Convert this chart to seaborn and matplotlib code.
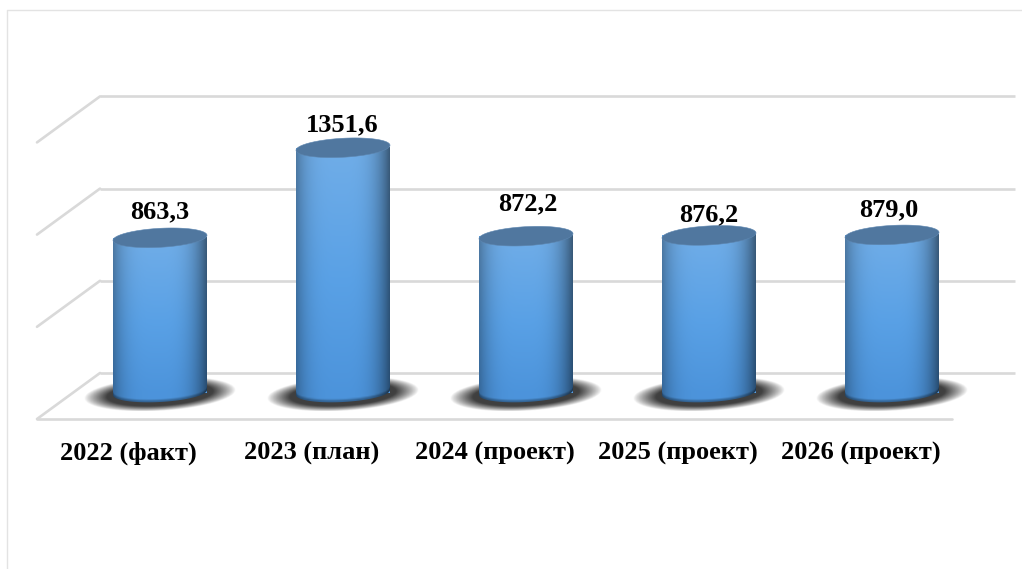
import numpy as np
import pandas as pd
import matplotlib.pyplot as plt
import seaborn as sns
from matplotlib.patches import Polygon
from matplotlib.lines import Line2D

# values
categories = ["2022 (факт)", "2023 (план)", "2024 (проект)", "2025 (проект)", "2026 (проект)"]
values = [863.3, 1351.6, 872.2, 876.2, 879.0]
grid_values = [0, 500, 1000, 1500]

sns.set_theme(style="white")
plt.rcParams["font.family"] = ["Liberation Serif", "DejaVu Serif"]

W, H = 1022, 569
X_SCALE = 183.0    # pixels per category
Y_SCALE = 0.1844   # pixels per value unit
ZERO_X, ZERO_Y = 160.0, 396.0

# helpers to turn pixel sizes into data units
def dx(px):
    return px / X_SCALE

def dy(px):
    return px / Y_SCALE

df = pd.DataFrame({"year": categories, "value": values})

fig = plt.figure(figsize=(W / 100, H / 100), dpi=100, facecolor="white")
ax = fig.add_axes([0, 0, 1, 1])
ax.set_facecolor("white")

bar_width = dx(94)
sns.barplot(data=df, x="year", y="value", width=bar_width, color="#5ba1e5", ax=ax, zorder=3, saturation=1)

xlim = (-ZERO_X / X_SCALE, (W - ZERO_X) / X_SCALE)
ylim = (-(H - ZERO_Y) / Y_SCALE, ZERO_Y / Y_SCALE)

# outer chart frame
fig.add_artist(Line2D([7 / W, 7 / W, 1], [0, 1 - 9.5 / H, 1 - 9.5 / H], color="#e3e3e3", lw=1))

# 3d walls: back line plus the slanted side, floor has a front line too
grid_color = "#d9d9d9"
depth_x, depth_y = dx(31.5), dy(23)
left, right = dx(100 - ZERO_X), dx(1015 - ZERO_X)
for g in grid_values:
    ax.plot([left, right], [g + depth_y, g + depth_y], color=grid_color, lw=1.9, zorder=1, solid_capstyle="butt")
    ax.plot([left - 2 * depth_x, left], [g - depth_y, g + depth_y], color=grid_color, lw=1.9, zorder=1)
ax.plot([left - 2 * depth_x, right - 2 * depth_x], [-depth_y, -depth_y], color=grid_color, lw=1.9, zorder=1)

a_px, b_px, tilt_px = 47.0, 9.5, 2.5
a, b, tilt = dx(a_px), dy(b_px), dy(tilt_px)
base = dy(3.5)
top_drop = dy(1)   # caps sit a touch lower than the value line
theta = np.linspace(0, 2 * np.pi, 120)

# soft floor shadow
def draw_shadow(cx):
    sy = base - dy(2)
    hw, hh = dx(76), dy(17)
    gx, gy = np.meshgrid(np.linspace(-1, 1, 200), np.linspace(-1, 1, 80))
    gy2 = gy - 0.25 * gx
    r = np.sqrt(gx ** 2 + gy2 ** 2)
    alpha = np.clip((1 - r) / 0.3, 0, 1) ** 0.85
    img = np.zeros(gx.shape + (4,))
    img[..., :3] = 0.25
    img[..., 3] = alpha
    ax.imshow(img, extent=(cx - hw, cx + hw, sy - hh, sy + hh), origin="lower", aspect="auto", zorder=2,
              interpolation="bilinear")

# cylinder body with shading, clipped to the bar outline
def draw_cylinder(cx, top):
    rows, cols = 200, 120
    u = np.linspace(-1, 1, cols)
    y = np.linspace(base - b - tilt, top, rows)
    uu, yy = np.meshgrid(u, y)
    frac = ((yy - base) / (top - base)).clip(0, 1)
    c_low = np.array([0.30, 0.58, 0.86])
    c_mid = np.array([0.35, 0.63, 0.90])
    c_top = np.array([0.44, 0.68, 0.91])
    img = np.zeros((rows, cols, 3))
    for i in range(3):
        img[..., i] = np.where(frac < 0.45,
                               c_low[i] + (c_mid[i] - c_low[i]) * frac / 0.45,
                               c_mid[i] + (c_top[i] - c_mid[i]) * (frac - 0.45) / 0.55)
    shade_l = 1 - 0.30 * np.abs(uu) ** 4
    shade_r = 1 - 0.48 * np.abs(uu) ** 3.2
    shade = np.where(uu < 0, shade_l, shade_r)
    # darker rim along the bottom curve
    edge = base - b * np.sqrt(1 - uu ** 2) + tilt * uu
    rim = np.clip(1 - (yy - edge) / dy(2.5), 0, 1)
    shade = shade * (1 - 0.32 * rim)
    img = img * shade[..., None]
    im = ax.imshow(img, extent=(cx - a, cx + a, y[0], y[-1]), origin="lower", aspect="auto", zorder=3.2,
                   interpolation="bilinear")
    low = np.linspace(np.pi, 2 * np.pi, 60)
    outline = [(cx - a, top - tilt)]
    outline += list(zip(cx + a * np.cos(low), base + b * np.sin(low) + tilt * np.cos(low)))
    outline += [(cx + a, top + tilt)]
    clip = Polygon(outline, closed=True, transform=ax.transData, fc="none", ec="none")
    ax.add_patch(clip)
    im.set_clip_path(clip)
    # top cap
    cap = Polygon(list(zip(cx + a * np.cos(theta), top + b * np.sin(theta) + tilt * np.cos(theta))),
                  closed=True, fc="#50779f", ec="#5d86b0", lw=0.4, zorder=4)
    ax.add_patch(cap)

for i, bar in enumerate(ax.patches[:len(values)]):
    cx = bar.get_x() + bar.get_width() / 2
    draw_shadow(cx)
    bar.set_y(base)
    bar.set_height(values[i] - top_drop - base)
    bar.set_linewidth(0)
    draw_cylinder(cx, values[i] - top_drop)

# value labels sit slightly off centre, as in the original
label_dx = [0, -1, 2, 0, -3]
label_dy = [25, 22, 31, 20, 24]
for i, v in enumerate(values):
    ax.text(i + dx(label_dx[i]), v + dy(label_dy[i]), f"{v:.1f}".replace(".", ","), ha="center", va="center",
            fontsize=19, fontweight="bold", color="black", zorder=6)

for i, name in enumerate(categories):
    ax.text(i - depth_x, dy(ZERO_Y - 453.5), name, ha="center", va="center", fontsize=19, fontweight="bold",
            color="black", zorder=6)

ax.set_xlim(*xlim)
ax.set_ylim(*ylim)
ax.axis("off")

fig.savefig("out.png", dpi=100, facecolor="white")
